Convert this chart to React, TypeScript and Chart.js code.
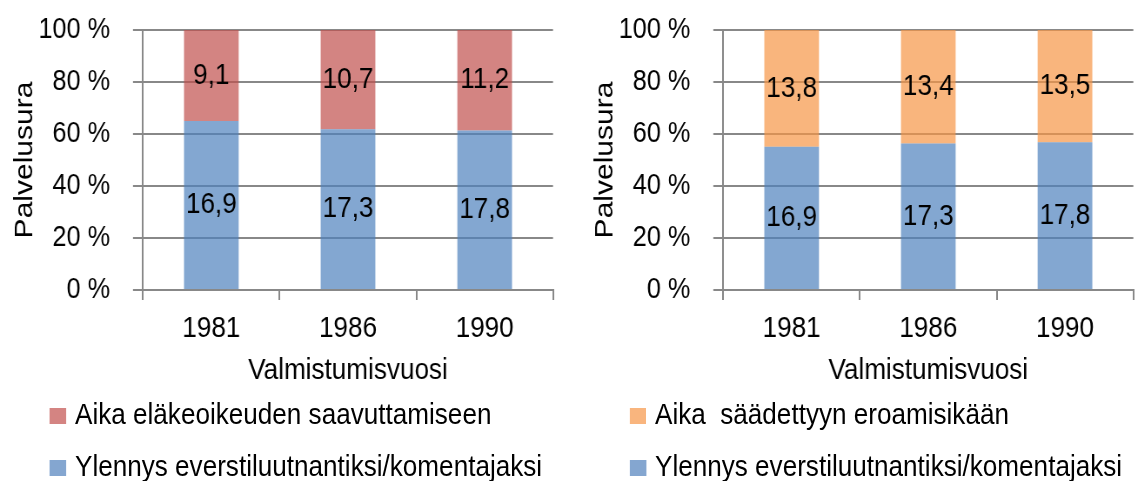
import React, { useEffect, useRef } from "react";
import { Chart, registerables } from "chart.js";

Chart.register(...registerables);

// ---- data ----
const years = ["1981", "1986", "1990"];
const promotionYears = [16.9, 17.3, 17.8];
const pensionYears = [9.1, 10.7, 11.2];
const retirementAgeYears = [13.8, 13.4, 13.5];
const yTickValues = [0, 20, 40, 60, 80, 100];

const promotionLabel = "Ylennys everstiluutnantiksi/komentajaksi";
const pensionLabel = "Aika eläkeoikeuden saavuttamiseen";
const retirementLabel = "Aika  säädettyyn eroamisikään";
const yTitle = "Palvelusura";
const xTitle = "Valmistumisvuosi";

// ---- styles ----
// The reference text is horizontally condensed; everything is laid out in an
// internal coordinate space and squeezed with scaleX.
const S = 0.87;
const ix = (screenX: number) => screenX / S; // screen px -> internal px
const INNER_W = ix(1139);
const FONT = "'Liberation Sans', Arial, sans-serif";
const FONT_SIZE = 30;
const TICK_SIZE = 29;
const GRID = "#888888";
const BLUE = "rgba(79,129,189,0.7)";
const RED = "rgba(192,80,77,0.7)";
const ORANGE = "rgba(247,150,70,0.7)";
const BLUE_SOLID = "#84A6D0";
const RED_SOLID = "#D48482";
const ORANGE_SOLID = "#F9B57E";

const PLOT_LEFT = ix(143); // internal px inside each canvas
const PLOT_RIGHT = ix(553);
const CANVAS_H = 400;

const toPercent = (a: number[], b: number[]) => a.map((v, i) => (v / (v + b[i])) * 100);
const fmt = (v: number) => v.toFixed(1).replace(".", ",");

const valueLabels = {
  id: "valueLabels",
  afterDatasetsDraw(chart: any) {
    const ctx = chart.ctx;
    ctx.save();
    ctx.font = `${FONT_SIZE}px ${FONT}`;
    ctx.fillStyle = "#000";
    ctx.textAlign = "center";
    ctx.textBaseline = "middle";
    chart.data.datasets.forEach((ds: any, i: number) => {
      const meta = chart.getDatasetMeta(i);
      meta.data.forEach((bar: any, j: number) => {
        const p = bar.getProps(["x", "y", "base"], true);
        ctx.fillText(fmt(ds.rawValues[j]), p.x, (p.y + p.base) / 2);
      });
    });
    ctx.restore();
  },
};

function StackChart(props: {
  left: number;
  width: number;
  topValues: number[];
  topLabel: string;
  topColor: string;
  topSolid: string;
}) {
  const ref = useRef<HTMLCanvasElement | null>(null);
  const w = Math.round(props.width);
  useEffect(() => {
    if (!ref.current) return;
    const font = { family: FONT, size: FONT_SIZE };
    const tickFont = { family: FONT, size: TICK_SIZE };
    const padLeft = ix(25) - (FONT_SIZE * 1.2) / 2;
    const yTickLen = ix(10);
    const yTickPad = PLOT_LEFT - yTickLen - ix(110);
    const chart = new Chart(ref.current, {
      type: "bar",
      data: {
        labels: years,
        datasets: [
          {
            label: promotionLabel,
            data: toPercent(promotionYears, props.topValues),
            backgroundColor: BLUE,
            rawValues: promotionYears,
            barPercentage: 0.4,
            categoryPercentage: 1,
          } as any,
          {
            label: props.topLabel,
            data: toPercent(props.topValues, promotionYears),
            backgroundColor: props.topColor,
            rawValues: props.topValues,
            barPercentage: 0.4,
            categoryPercentage: 1,
          } as any,
        ],
      },
      options: {
        animation: false,
        responsive: false,
        maintainAspectRatio: false,
        layout: { padding: { left: padLeft, right: w - PLOT_RIGHT, top: 30, bottom: 8 } },
        plugins: { legend: { display: false }, tooltip: { enabled: false } },
        scales: {
          x: {
            stacked: true,
            grid: { drawOnChartArea: false, drawTicks: true, tickLength: 10, color: GRID, lineWidth: 2 },
            border: { color: GRID, width: 2 },
            ticks: { color: "#000", font, padding: 11 },
            title: { display: true, text: xTitle, color: "#000", font, padding: { top: 0, bottom: 3 } },
            afterFit: (s: any) => {
              s.height = 102;
              s.paddingLeft = 0;
              s.paddingRight = 0;
            },
          },
          y: {
            stacked: true,
            min: 0,
            max: 100,
            grid: { color: GRID, lineWidth: 2, tickLength: yTickLen },
            border: { color: GRID, width: 2 },
            ticks: { color: "#000", font: tickFont, padding: yTickPad, callback: (v: any) => `${v} %` },
            afterBuildTicks: (s: any) => {
              s.ticks = yTickValues.map((v) => ({ value: v }));
            },
            title: { display: true, text: yTitle, color: "#000", font, padding: 0 },
            afterFit: (s: any) => {
              s.width = PLOT_LEFT - padLeft;
              s.paddingTop = 0;
              s.paddingBottom = 0;
            },
          },
        },
      } as any,
      plugins: [valueLabels],
    });
    return () => chart.destroy();
  }, []);

  const legendText: React.CSSProperties = {
    position: "absolute",
    left: ix(75),
    fontFamily: FONT,
    fontSize: FONT_SIZE,
    lineHeight: "35px",
    whiteSpace: "pre",
    color: "#000",
  };
  const square = (color: string, top: number): React.CSSProperties => ({
    position: "absolute",
    left: ix(50),
    top,
    width: ix(16),
    height: 16,
    background: color,
  });

  return (
    <div style={{ position: "absolute", left: props.left, top: 0, width: w, height: 481 }}>
      <canvas ref={ref} width={w} height={CANVAS_H} style={{ width: w, height: CANVAS_H, display: "block" }} />
      <div style={square(props.topSolid, 408)} />
      <div style={{ ...legendText, top: 396 }}>{props.topLabel}</div>
      <div style={square(BLUE_SOLID, 460)} />
      <div style={{ ...legendText, top: 448 }}>{promotionLabel}</div>
    </div>
  );
}

export default function App() {
  const rightLeft = ix(580);
  return (
    <div
      style={{
        position: "absolute",
        left: 0,
        top: 0,
        width: 1139,
        height: 481,
        background: "#fff",
        overflow: "hidden",
      }}
    >
      <div
        style={{
          position: "absolute",
          left: 0,
          top: 0,
          width: INNER_W,
          height: 481,
          transform: `scaleX(${S})`,
          transformOrigin: "0 0",
        }}
      >
        <StackChart
          left={0}
          width={ix(570)}
          topValues={pensionYears}
          topLabel={pensionLabel}
          topColor={RED}
          topSolid={RED_SOLID}
        />
        <StackChart
          left={rightLeft}
          width={INNER_W - rightLeft}
          topValues={retirementAgeYears}
          topLabel={retirementLabel}
          topColor={ORANGE}
          topSolid={ORANGE_SOLID}
        />
      </div>
    </div>
  );
}
